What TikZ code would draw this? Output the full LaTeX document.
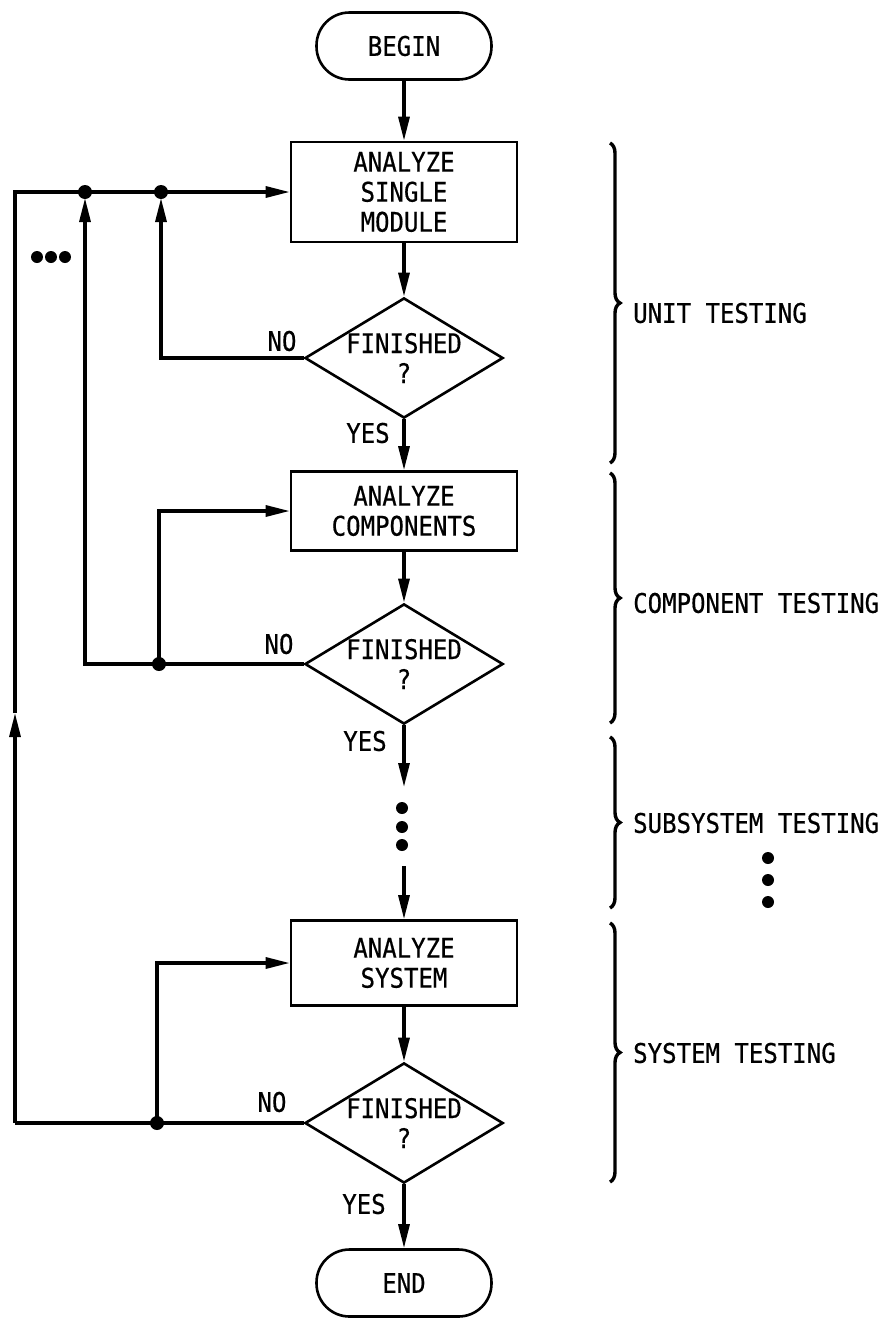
\documentclass[tikz,border=0pt]{standalone}
\usepackage{fontspec}
\newfontfamily\flowfont[FakeStretch=0.89,FakeBold=0.6]{DejaVu Sans Mono}
\usetikzlibrary{arrows.meta,shapes.geometric,decorations.pathreplacing}

\begin{document}
\begin{tikzpicture}[x=1pt,y=-1pt,font=\flowfont\fontsize{27}{30}\selectfont]
\useasboundingbox (0,0) rectangle (888,1320);

\begin{scope}[every node/.style={draw,line width=2.6pt,align=center},
              box/.style={minimum width=226pt},
              check/.style={diamond,aspect=1.65,inner sep=0pt,minimum width=198pt,minimum height=116pt},
              term/.style={rounded corners=33pt,minimum width=175pt,minimum height=67pt}]
    \node[term] (start) at (404,46) {BEGIN};
    \node[box,minimum height=100pt] (single) at (404,192) {ANALYZE\\SINGLE\\MODULE};
    \node[check] (fin1) at (404,358) {FINISHED\\?};
    \node[box,minimum height=79pt] (comp) at (404,511) {ANALYZE\\COMPONENTS};
    \node[check] (fin2) at (404,664) {FINISHED\\?};
    \node[box,minimum height=85pt] (system) at (404,963) {ANALYZE\\SYSTEM};
    \node[check] (fin3) at (404,1123) {FINISHED\\?};
    \node[term] (stop) at (404,1283) {END};
\end{scope}

\coordinate (gap1) at (404,787);
\coordinate (gap2) at (404,866);
\coordinate (j1) at (161,192);
\coordinate (j2) at (85,192);
\coordinate (j3) at (159,664);
\coordinate (j4) at (157,1123);
\coordinate (c1) at (15,192);
\coordinate (c2) at (15,1123);
\coordinate (mid) at (15,713);

\begin{scope}[>={Triangle[length=24pt,width=11pt]},
              every edge/.style={draw,line width=3.2pt}]
    \path [->] (start) edge (single);
    \path [->] (single) edge (fin1);
    \path [->] (fin1) edge (comp);
    \path [->] (comp) edge (fin2);
    \path [->] (fin2) edge (gap1);
    \path [->] (gap2) edge (system);
    \path [->] (system) edge (fin3);
    \path [->] (fin3) edge (stop);
\end{scope}

\begin{scope}[>={Triangle[length=24pt,width=11pt]},line width=3.2pt]
    \draw[->,shorten >=6pt] (fin1.west) -| (j1);
    \draw[->,shorten >=6pt] (fin2.west) -| (j2);
    \draw[->] (j3) |- (comp.west);
    \draw[->] (j4) |- (system.west);
    \draw (fin3.west) -- (c2);
    \draw[->] (c2) -- (mid);
    \draw[->] (mid) -- (c1) -- (single.west);
    \foreach \j in {j1,j2,j3,j4}
        \fill (\j) circle (7pt);
\end{scope}

\begin{scope}[every node/.style={inner sep=0pt}]
    \node (no1) at (282,341) {NO};
    \node (no2) at (279,644) {NO};
    \node (no3) at (272,1102) {NO};
    \node (yes1) at (368,433) {YES};
    \node (yes2) at (365,741) {YES};
    \node (yes3) at (364,1204) {YES};
\end{scope}

\foreach \x in {37,51,65}
    \fill (\x,257) circle (6pt);
\foreach \y in {808,827,845}
    \fill (402,\y) circle (6pt);
\foreach \y in {858,880,902}
    \fill (768,\y) circle (6pt);

\begin{scope}[decoration={brace,amplitude=10pt},line width=3.4pt]
    \draw[decorate] (610,143) -- (610,463);
    \draw[decorate] (610,473) -- (610,723);
    \draw[decorate] (610,737) -- (610,908);
    \draw[decorate] (610,923) -- (610,1182);
\end{scope}

\begin{scope}[every node/.style={anchor=west,inner sep=0pt}]
    \node (unit) at (633,313) {UNIT TESTING};
    \node (component) at (633,603) {COMPONENT TESTING};
    \node (subsystem) at (633,823) {SUBSYSTEM TESTING};
    \node (systest) at (633,1053) {SYSTEM TESTING};
\end{scope}
\end{tikzpicture}
\end{document}
